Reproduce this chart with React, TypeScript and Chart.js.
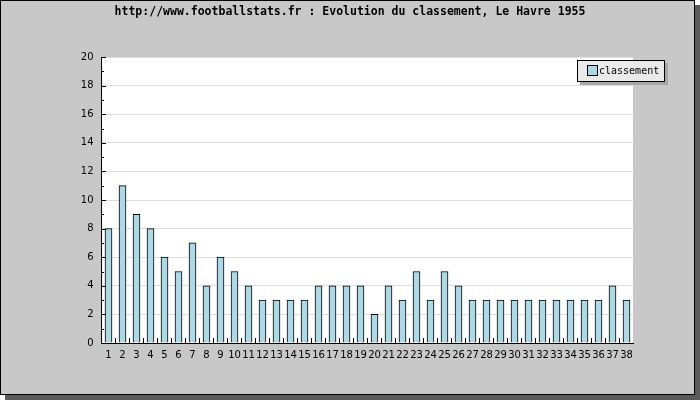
import React, { useEffect, useRef } from "react";
import { Chart, registerables } from "chart.js";

Chart.register(...registerables);

const TITLE = "http://www.footballstats.fr : Evolution du classement, Le Havre 1955";
const SERIES_LABEL = "classement";
const categories: string[] = Array.from({ length: 38 }, (_, i) => String(i + 1));
const classement: number[] = [
  8, 11, 9, 8, 6, 5, 7, 4, 6, 5, 4, 3, 3, 3, 3, 4, 4, 4, 4, 2,
  4, 3, 5, 3, 5, 4, 3, 3, 3, 3, 3, 3, 3, 3, 3, 3, 4, 3,
];
const Y_MIN = 0;
const Y_MAX = 20;
const Y_STEP = 2;

const BG = "#c8c8c8";
const BAR = "#add8e6";

const framePlugin = {
  id: "frame",
  beforeDraw(chart: any) {
    const { ctx, width, height, chartArea } = chart;
    ctx.save();
    ctx.fillStyle = "#ffffff";
    ctx.fillRect(0, 0, width, height);
    ctx.fillStyle = "#5a5a5a";
    ctx.fillRect(5, 5, width - 5, height - 5);
    ctx.fillStyle = BG;
    ctx.fillRect(0, 0, width - 5, height - 5);
    ctx.strokeStyle = "#000";
    ctx.lineWidth = 1;
    ctx.strokeRect(0.5, 0.5, width - 6, height - 6);
    ctx.fillStyle = "#ffffff";
    const l = Math.floor(chartArea.left);
    const r = Math.floor(chartArea.right);
    ctx.fillRect(l, 57, r - l, Math.round(chartArea.bottom) - 57);
    // title
    ctx.fillStyle = "#000";
    ctx.font = "bold 11.5px 'DejaVu Sans Mono'";
    ctx.textAlign = "center";
    ctx.textBaseline = "middle";
    ctx.fillText(TITLE, 350, 12);
    ctx.restore();
  },
  afterDraw(chart: any) {
    const { ctx, chartArea, scales } = chart;
    const y = scales.y;
    ctx.save();
    ctx.strokeStyle = "#000";
    ctx.lineWidth = 1;
    ctx.beginPath();
    const ax = Math.floor(chartArea.left);
    for (let v = Y_MIN; v <= Y_MAX; v += 1) {
      const py = Math.round(y.getPixelForValue(v)) + 0.5;
      const len = v % Y_STEP === 0 ? 5 : 3;
      ctx.moveTo(ax, py);
      ctx.lineTo(ax + len, py);
    }
    const n = categories.length;
    const w = (chartArea.right - chartArea.left) / n;
    for (let i = 1; i < n; i++) {
      const px = Math.floor(chartArea.left + i * w) + 0.5;
      ctx.moveTo(px, Math.round(chartArea.bottom));
      ctx.lineTo(px, Math.round(chartArea.bottom) - 5);
    }
    ctx.stroke();
    // legend
    const lx = 577, ly = 60, lw = 88, lh = 22;
    ctx.fillStyle = "#a8a8a8";
    ctx.fillRect(lx + 3, ly + 3, lw, lh);
    ctx.fillStyle = "#eaeaea";
    ctx.fillRect(lx, ly, lw, lh);
    ctx.strokeStyle = "#000";
    ctx.strokeRect(lx + 0.5, ly + 0.5, lw - 1, lh - 1);
    ctx.fillStyle = BAR;
    ctx.fillRect(587, 65, 11, 11);
    ctx.strokeRect(587.5, 65.5, 10, 10);
    ctx.fillStyle = "#000";
    ctx.font = "10px 'DejaVu Sans Mono'";
    ctx.textAlign = "left";
    ctx.textBaseline = "middle";
    ctx.fillText(SERIES_LABEL, 599, 71);
    ctx.restore();
  },
};

export default function App() {
  const ref = useRef<HTMLCanvasElement>(null);
  useEffect(() => {
    document.body.style.margin = "0";
    const chart = new Chart(ref.current!, {
      type: "bar",
      data: {
        labels: categories,
        datasets: [
          {
            label: SERIES_LABEL,
            data: classement,
            backgroundColor: BAR,
            borderColor: "#000",
            borderWidth: 1,
            barThickness: 7,
          },
        ],
      },
      options: {
        responsive: false,
        animation: false,
        layout: { padding: { top: 57, right: 66.5, bottom: 0, left: 0 } },
        plugins: { legend: { display: false }, title: { display: false }, tooltip: { enabled: false } },
        scales: {
          x: {
            afterFit: (s: any) => { s.height = 57; },
            grid: { display: false, drawTicks: false },
            border: { display: true, color: "#000", width: 1 },
            ticks: {
              autoSkip: false,
              maxRotation: 0,
              minRotation: 0,
              padding: 6,
              color: "#000",
              font: { family: "DejaVu Sans", size: 10 },
            },
          },
          y: {
            min: Y_MIN,
            max: Y_MAX,
            afterFit: (s: any) => { s.width = 101.5; },
            grid: { color: "#dddddd", drawTicks: false },
            border: { display: true, color: "#000", width: 1 },
            ticks: {
              stepSize: Y_STEP,
              padding: 8,
              color: "#000",
              font: { family: "DejaVu Sans", size: 10 },
            },
          },
        },
      },
      plugins: [framePlugin],
    });
    return () => chart.destroy();
  }, []);
  return <canvas ref={ref} width={700} height={400} style={{ display: "block" }} />;
}
